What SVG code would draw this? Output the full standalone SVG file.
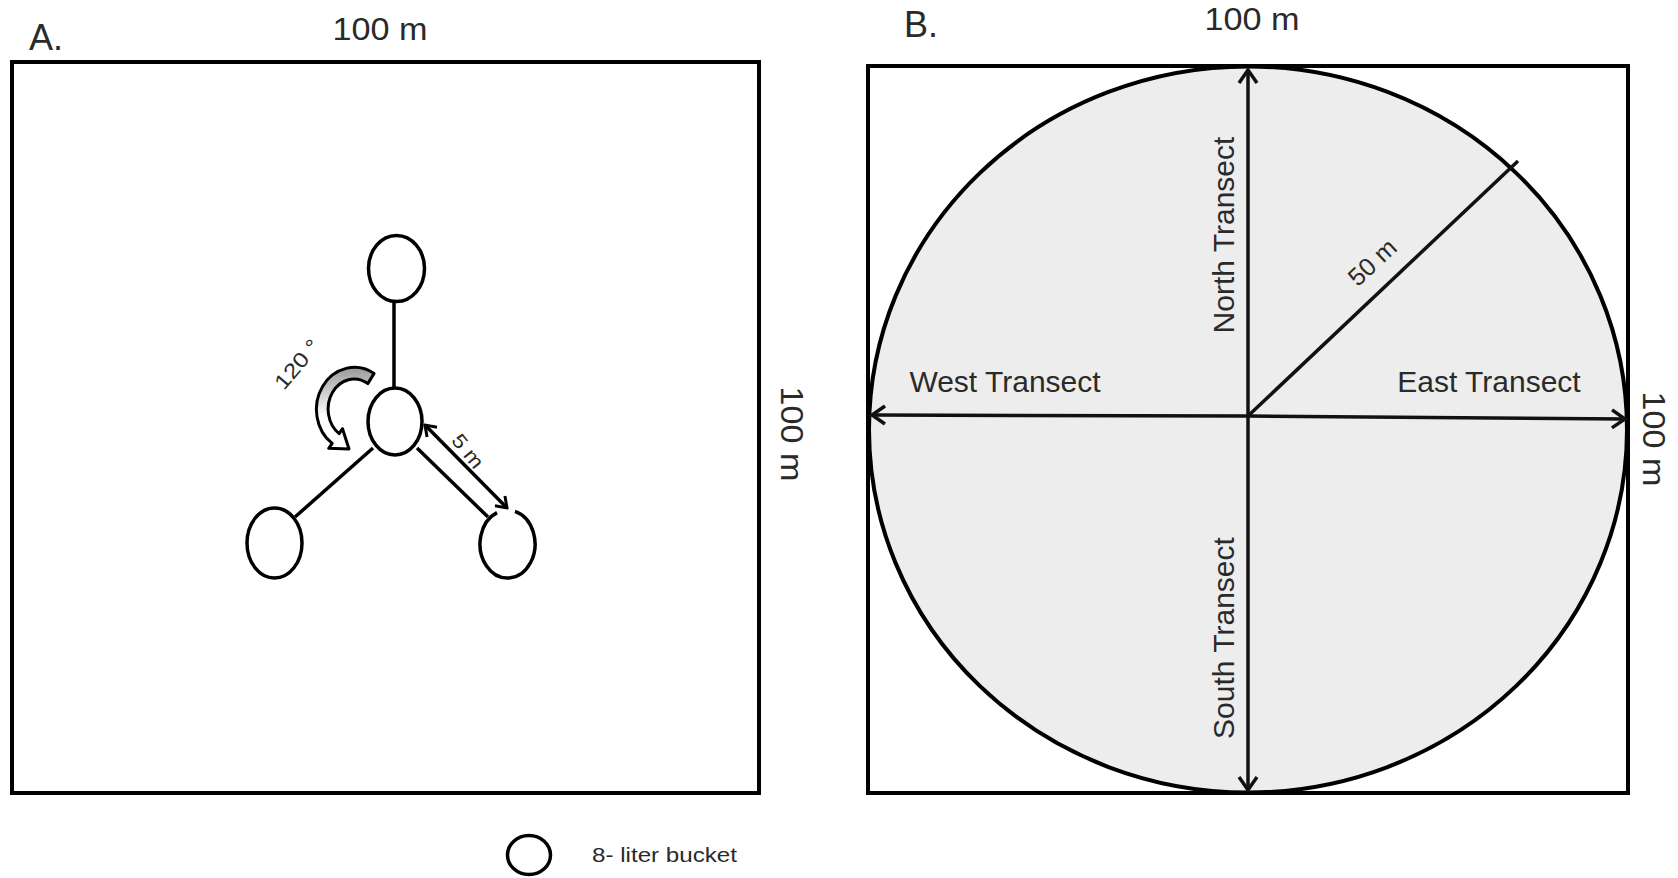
<svg xmlns="http://www.w3.org/2000/svg" width="1678" height="878" viewBox="0 0 1678 878">
  <style>
    .t { font-family: "Liberation Sans", Arial, sans-serif; fill: #2a2a2a; }
    .frame { fill: none; stroke: #000; stroke-width: 4; }
    .bucket { fill: #fff; stroke: #000; stroke-width: 3.5; }
    .link { stroke: #000; stroke-width: 3.5; fill: none; }
    .tr { stroke: #111; stroke-width: 3.5; fill: none; }
  </style>
  <defs>
    <marker id="chev" viewBox="-16 -11 19 22" refX="0" refY="0" markerWidth="19" markerHeight="22" markerUnits="userSpaceOnUse" orient="auto-start-reverse">
      <path d="M -13,-9 L 0,0 L -13,9" fill="none" stroke="#111" stroke-width="3.5" stroke-linejoin="miter"/>
    </marker>
    <marker id="chevS" viewBox="-13 -9 15 18" refX="0" refY="0" markerWidth="15" markerHeight="18" markerUnits="userSpaceOnUse" orient="auto-start-reverse">
      <path d="M -10,-7 L 0,0 L -10,7" fill="none" stroke="#000" stroke-width="3" stroke-linejoin="miter"/>
    </marker>
    <linearGradient id="curvFill" x1="0.5" y1="0" x2="0.5" y2="0.6">
      <stop offset="0" stop-color="#9a9a9a"/>
      <stop offset="1" stop-color="#ffffff"/>
    </linearGradient>
  </defs>

  <rect width="1678" height="878" fill="#fff"/>

  <!-- Panel A -->
  <g id="panelA">
    <rect class="frame" x="12" y="62" width="747" height="731"/>
    <text class="t" x="29" y="50" font-size="36">A.</text>
    <text class="t" x="380" y="40" font-size="32" text-anchor="middle" textLength="95" lengthAdjust="spacingAndGlyphs">100 m</text>
    <text class="t" transform="translate(792,434) rotate(90)" font-size="32" text-anchor="middle" dominant-baseline="central" textLength="95" lengthAdjust="spacingAndGlyphs">100 m</text>
  </g>

  <g id="connectorsA">
    <line class="link" x1="394" y1="302" x2="394" y2="388"/>
    <line class="link" x1="373" y1="448" x2="295" y2="517"/>
    <line class="link" x1="417" y1="448" x2="488" y2="517"/>
    <line class="link" x1="425" y1="425" x2="507" y2="508" marker-start="url(#chevS)" marker-end="url(#chevS)"/>
    <path d="M 374.1,373.4 A 38 42 0 0 0 332.2,443.4 L 328.7,448.3 L 349,449 L 342.5,428.7 L 339.1,433.6 A 26 30 0 0 1 367.8,383.6 Z" fill="url(#curvFill)" stroke="#000" stroke-width="3" stroke-linejoin="round"/>
  </g>

  <g id="bucketTop"><ellipse class="bucket" cx="396.5" cy="268.5" rx="28" ry="33"/></g>
  <g id="bucketCenter"><ellipse class="bucket" cx="395" cy="421.5" rx="27" ry="33.5"/></g>
  <g id="bucketLeft"><ellipse class="bucket" cx="274.5" cy="543" rx="27.5" ry="35"/></g>
  <g id="bucketRight"><path class="bucket" d="M 515,511.3 A 27.5 34 0 1 1 497,512.6"/></g>

  <g id="labelsA">
    <text class="t" transform="translate(297,364) rotate(-50)" font-size="21" text-anchor="middle" dominant-baseline="central" textLength="58" lengthAdjust="spacingAndGlyphs">120 °</text>
    <text class="t" transform="translate(468,451) rotate(51)" font-size="20" text-anchor="middle" dominant-baseline="central" textLength="38" lengthAdjust="spacingAndGlyphs">5 m</text>
  </g>

  <!-- Panel B -->
  <g id="panelB">
    <rect class="frame" x="868" y="66" width="760" height="727"/>
    <ellipse cx="1248" cy="429.5" rx="379" ry="363" fill="#ededed" stroke="#000" stroke-width="4"/>
    <text class="t" x="904" y="37" font-size="36">B.</text>
    <text class="t" x="1252" y="30" font-size="32" text-anchor="middle" textLength="95" lengthAdjust="spacingAndGlyphs">100 m</text>
    <text class="t" transform="translate(1654,439) rotate(90)" font-size="32" text-anchor="middle" dominant-baseline="central" textLength="95" lengthAdjust="spacingAndGlyphs">100 m</text>
  </g>

  <g id="transects">
    <line class="tr" x1="1248" y1="416" x2="1248" y2="70" marker-end="url(#chev)"/>
    <line class="tr" x1="1248" y1="416" x2="1248" y2="790" marker-end="url(#chev)"/>
    <line class="tr" x1="1248" y1="416" x2="872" y2="415" marker-end="url(#chev)"/>
    <line class="tr" x1="1248" y1="416" x2="1625" y2="419" marker-end="url(#chev)"/>
    <line class="tr" x1="1248" y1="416" x2="1518" y2="161"/>
  </g>

  <g id="labelsB">
    <text class="t" transform="translate(1234,235) rotate(-90)" font-size="30" text-anchor="middle">North Transect</text>
    <text class="t" transform="translate(1234,638) rotate(-90)" font-size="30" text-anchor="middle">South Transect</text>
    <text class="t" x="1005" y="392" font-size="30" text-anchor="middle">West Transect</text>
    <text class="t" x="1489" y="392" font-size="30" text-anchor="middle">East Transect</text>
    <text class="t" transform="translate(1372,262) rotate(-43)" font-size="25" text-anchor="middle" dominant-baseline="central">50 m</text>
  </g>

  <!-- Legend -->
  <g id="legend">
    <ellipse class="bucket" cx="529" cy="855" rx="21.5" ry="19.5"/>
    <text class="t" x="592" y="862" font-size="20" textLength="145" lengthAdjust="spacingAndGlyphs">8- liter bucket</text>
  </g>
</svg>
